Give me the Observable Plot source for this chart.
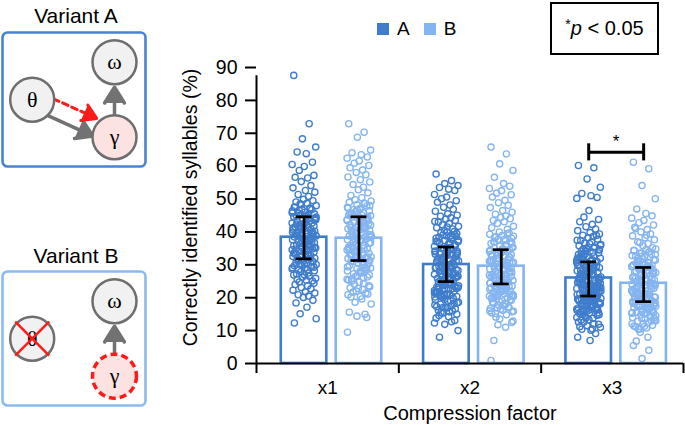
<!DOCTYPE html>
<html><head><meta charset="utf-8">
<script src="https://cdn.jsdelivr.net/npm/d3@7"></script>
<script src="https://cdn.jsdelivr.net/npm/@observablehq/plot@0.6"></script>
<style>
html,body{margin:0;padding:0;background:#fff;}
#root{position:relative;width:685px;height:425px;overflow:hidden;font-family:"Liberation Sans",Arial,Helvetica,sans-serif;color:#000;}
.abs{position:absolute;}
.title{position:absolute;left:0;width:152px;text-align:center;font-size:21px;line-height:21px;}
</style></head><body><div id="root"></div>
<script>
// ---------- data ----------
const categories = ["x1", "x2", "x3"];
const seriesNames = ["A", "B"];
const barA = [38.4, 30.1, 26.0];
const barB = [38.1, 29.6, 24.4];
const errLoA = [31.8, 24.9, 20.5];
const errHiA = [44.6, 35.4, 30.9];
const errLoB = [31.3, 24.2, 18.8];
const errHiB = [44.6, 34.6, 29.2];
const yTicks = [0, 10, 20, 30, 40, 50, 60, 70, 80, 90];
const sigCategory = "x3";
const sigLevel = 64.2;
const sigSpan = 2.6;
const sigLabel = "*";
const pNote = "p < 0.05";

const x1A = [87.6,72.9,68.3,65.8,64.3,63.8,61.2,60.5,59.9,58.7,57.2,56.6,56.4,55.3,54.1,53.4,52.6,52.1,51.4,50.8,
49.9,49.5,49.1,48.7,48.6,48.0,47.6,47.3,46.9,46.8,46.4,46.0,45.7,45.5,45.2,45.0,
44.8,44.6,44.2,44.0,43.7,43.5,43.1,42.8,42.7,42.3,42.0,41.8,41.5,41.4,41.1,40.8,40.6,40.4,40.2,40.0,43.9,42.5,
39.8,39.6,39.3,39.1,38.8,38.5,38.4,38.1,37.8,37.6,37.2,37.0,36.7,36.5,36.3,36.0,35.8,35.5,35.2,35.1,38.9,37.4,
34.9,34.6,34.3,34.1,33.8,33.6,33.2,33.0,32.8,32.5,32.2,32.0,31.7,31.5,31.2,31.0,30.8,30.5,30.2,30.1,33.4,31.9,
29.8,29.5,29.1,28.9,28.5,28.2,27.9,27.5,27.2,26.9,26.5,26.2,25.9,25.6,25.3,25.1,28.7,27.0,
24.8,24.4,24.0,23.6,23.1,22.7,22.3,21.8,21.4,20.9,20.5,20.1,
19.2,18.4,17.1,15.1,13.6,12.3,
37.8,39.0,36.9,39.9,36.1,40.7,35.3,41.5,34.4,42.4,33.6,43.2,32.7,44.1,31.9,44.9,31.0,45.8,30.2,46.6,29.3,47.5,28.5,48.3,35.6,41.2,33.2,43.6,31.4,45.4,38.1,38.7,34.8,42.0,32.3,44.5,29.7,47.1,37.3,39.5];
const x1B = [72.9,70.3,68.8,64.9,64.1,63.5,62.8,62.4,61.6,60.9,60.2,59.5,58.8,58.1,57.4,56.7,55.9,55.2,54.4,53.6,52.8,51.9,51.1,50.4,
49.8,49.4,49.0,48.6,48.3,47.9,47.5,47.1,46.8,46.4,46.1,45.8,45.4,45.1,48.8,46.6,
44.9,44.6,44.2,43.9,43.5,43.2,42.9,42.6,42.2,41.9,41.6,41.3,41.0,40.7,40.4,40.1,43.0,42.0,44.4,41.4,
39.8,39.5,39.1,38.8,38.5,38.2,37.9,37.6,37.2,36.9,36.6,36.3,36.0,35.7,35.4,35.1,38.0,36.8,39.3,37.4,
34.8,34.5,34.1,33.8,33.5,33.2,32.9,32.6,32.2,31.9,31.6,31.3,31.0,30.7,30.4,30.1,33.0,31.8,34.3,32.4,
29.7,29.3,28.9,28.5,28.1,27.7,27.3,26.9,26.5,26.1,25.7,25.3,28.0,26.7,29.0,25.1,27.5,26.3,25.6,
24.7,24.1,23.6,23.0,22.5,22.0,21.4,20.9,20.4,23.3,21.7,24.3,22.8,21.1,20.2,
19.6,18.6,18.1,15.6,15.0,14.4,14.0,9.5,
37.5,38.7,36.6,39.6,35.8,40.4,35.0,41.2,34.1,42.1,33.3,42.9,32.4,43.8,31.6,44.6,30.7,45.5,29.9,46.3,29.0,47.2,28.2,48.0,35.3,40.9,32.9,43.3,31.1,45.1,37.8,38.4,34.5,41.7,32.0,44.2,29.4,46.8,37.0,39.2];
const x2A = [57.6,55.6,54.7,54.1,53.5,53.0,52.6,51.4,50.6,50.1,49.5,49.0,48.2,47.5,46.9,46.3,45.5,45.1,
44.8,44.3,43.9,43.5,43.0,42.6,42.1,41.7,41.3,40.9,40.5,40.1,43.2,41.5,
39.8,39.5,39.1,38.8,38.4,38.1,37.7,37.4,37.0,36.7,36.3,36.0,35.6,35.3,35.1,38.6,37.2,36.5,
34.8,34.5,34.2,33.9,33.6,33.3,33.0,32.7,32.4,32.1,31.8,31.5,31.2,30.9,30.6,30.3,30.1,34.0,32.9,31.7,33.5,30.8,
29.8,29.5,29.2,28.9,28.6,28.3,28.0,27.7,27.4,27.1,26.8,26.5,26.2,25.9,25.6,25.3,25.1,29.0,27.9,26.6,28.4,25.8,27.2,26.0,
24.8,24.4,24.0,23.6,23.2,22.8,22.4,22.0,21.6,21.2,20.8,20.4,20.1,23.9,22.6,21.4,24.2,20.6,23.0,21.9,24.6,23.4,22.2,21.0,20.2,22.9,21.7,20.9,23.7,
19.8,19.3,18.9,18.4,18.0,17.5,17.1,16.6,16.2,15.7,15.3,18.6,17.3,16.0,19.5,18.2,17.8,16.9,15.5,15.0,17.0,19.0,
14.6,13.8,12.7,11.9,10.0,8.0,14.2,13.1,12.3,
29.5,30.7,28.6,31.6,27.8,32.4,27.0,33.2,26.1,34.1,25.3,34.9,24.4,35.8,23.6,36.6,22.7,37.5,21.9,38.3,21.0,39.2,20.2,40.0,27.3,32.9,24.9,35.3,23.1,37.1,29.8,30.4,26.5,33.7,24.0,36.2,21.4,38.8,29.0,31.2];
const x2B = [65.8,63.7,60.7,58.7,56.6,54.7,53.9,53.2,52.5,51.8,51.3,50.6,49.6,48.9,48.1,47.4,46.5,46.0,45.4,
44.9,44.4,44.0,43.5,43.1,42.6,41.7,41.3,40.8,40.0,
39.7,39.3,38.9,38.5,38.1,37.7,37.3,36.9,36.5,36.1,35.7,35.3,37.0,
34.8,34.5,34.1,33.8,33.4,33.1,32.7,32.4,32.0,31.7,31.3,31.0,30.6,30.3,30.0,33.6,32.2,31.5,34.3,32.9,30.8,31.1,
29.8,29.4,29.1,28.7,28.4,28.0,27.7,27.3,27.0,26.6,26.3,25.9,25.6,25.2,29.6,28.2,27.5,26.8,26.1,25.4,28.9,27.1,25.7,29.2,
24.8,24.4,24.0,23.6,23.2,22.8,22.4,22.0,21.6,21.2,20.8,20.4,20.0,24.6,23.9,23.4,22.6,21.9,21.4,20.6,24.2,22.2,20.2,23.0,24.1,21.8,20.9,23.7,22.3,21.1,20.5,22.7,
19.7,19.2,18.7,18.2,17.7,17.2,16.7,16.2,15.7,15.2,18.0,16.5,19.4,18.5,17.5,16.9,15.9,15.4,19.9,18.9,17.0,16.0,19.0,
14.1,12.5,11.8,11.0,7.0,0.9,14.8,13.5,12.9,
29.0,30.2,28.1,31.1,27.3,31.9,26.5,32.7,25.6,33.6,24.8,34.4,23.9,35.3,23.1,36.1,22.2,37.0,21.4,37.8,20.5,38.7,19.7,39.5,26.8,32.4,24.4,34.8,22.6,36.6,29.3,29.9,26.0,33.2,23.5,35.7,20.9,38.3,28.5,30.7];
const x3A = [60.2,59.5,56.1,53.6,51.7,51.0,50.5,50.2,46.5,44.5,43.8,43.1,42.3,41.6,40.9,40.4,
39.8,39.4,39.0,38.6,38.2,37.8,37.4,37.0,36.6,36.2,35.8,35.4,35.1,38.9,37.5,36.4,
34.8,34.5,34.1,33.8,33.4,33.1,32.7,32.4,32.0,31.7,31.3,31.0,30.6,30.3,30.0,33.6,32.2,31.5,34.3,30.8,
29.8,29.4,29.1,28.7,28.4,28.0,27.7,27.3,27.0,26.6,26.3,25.9,25.6,25.2,29.6,28.2,27.5,26.8,26.1,25.4,28.9,27.1,25.7,29.2,
24.8,24.4,24.0,23.6,23.2,22.8,22.4,22.0,21.6,21.2,20.8,20.4,20.0,24.6,23.9,23.4,22.6,21.9,21.4,20.6,24.2,22.2,20.2,23.0,
24.5,23.1,22.5,21.7,21.0,20.3,24.0,22.1,20.9,23.4,
19.8,19.4,19.0,18.6,18.2,17.8,17.4,17.0,16.6,16.2,15.8,15.4,15.1,18.9,17.6,16.4,19.6,19.1,18.5,18.0,17.4,16.8,16.3,15.7,19.3,17.7,19.8,19.0,18.3,17.5,16.8,16.1,15.4,15.0,
14.8,14.3,13.7,13.2,12.6,12.1,11.5,11.0,10.4,10.1,14.7,14.0,13.3,12.6,11.9,11.2,10.5,13.8,
9.1,8.0,7.0,
25.4,26.6,24.5,27.5,23.7,28.3,22.9,29.1,22.0,30.0,21.2,30.8,20.3,31.7,19.5,32.5,18.6,33.4,17.8,34.2,16.9,35.1,16.1,35.9,23.2,28.8,20.8,31.2,19.0,33.0,25.7,26.3,22.4,29.6,19.9,32.1,17.3,34.7,24.9,27.1];
const x3B = [61.2,59.2,54.1,50.1,47.0,45.6,44.9,44.2,43.5,
42.8,42.1,41.4,40.7,40.0,39.4,38.8,38.2,37.6,37.0,36.4,35.8,35.2,41.0,39.0,36.7,
34.8,34.4,34.0,33.6,33.2,32.8,32.4,32.0,31.6,31.2,30.8,30.4,30.0,33.9,32.6,31.4,30.2,34.6,
29.8,29.4,29.0,28.6,28.2,27.8,27.4,27.0,26.6,26.2,25.8,25.4,25.0,29.6,28.4,27.2,26.0,25.2,28.9,27.6,26.4,29.2,
24.9,24.5,24.1,23.7,23.3,22.9,22.5,22.1,21.7,21.3,20.9,20.5,20.1,24.7,23.9,23.1,22.3,21.5,20.7,24.3,22.7,21.1,20.3,23.5,21.8,21.0,20.2,20.6,
19.8,19.4,19.0,18.6,18.2,17.8,17.4,17.0,16.6,16.2,15.8,15.4,15.1,19.6,18.4,17.6,16.4,15.6,18.9,17.2,19.3,18.5,17.7,16.9,16.1,15.3,18.8,17.1,15.5,19.9,16.6,
14.8,14.4,14.0,13.6,13.2,12.8,12.4,12.0,11.6,11.2,10.8,10.4,13.0,11.4,14.5,13.7,12.9,12.1,11.3,10.5,13.9,
9.5,8.0,6.8,5.5,4.0,1.5,
23.8,25.0,22.9,25.9,22.1,26.7,21.3,27.5,20.4,28.4,19.6,29.2,18.7,30.1,17.9,30.9,17.0,31.8,16.2,32.6,15.3,33.5,14.5,34.3,21.6,27.2,19.2,29.6,17.4,31.4,24.1,24.7,20.8,28.0,18.3,30.5,15.7,33.1,23.3,25.5];

// fixed horizontal scatter offsets (fraction of half-cloud width), cycled per point
const jitter = [-0.82,0.41,-0.13,0.93,-0.55,0.18,0.67,-0.95,0.02,-0.38,0.79,-0.71,0.29,-0.22,0.55,-0.88,0.11,0.86,-0.47,0.36,-0.05,0.71,-0.64,0.23,-0.31,0.97,-0.77,0.48,-0.16,0.62,-0.92,0.07,-0.43,0.83,-0.27,0.34,-0.59];

// diagram structure
const nodesA = [
  {label: "ω", col: 1, row: 0, kind: "observed"},
  {label: "θ", col: 0, row: 1, kind: "observed"},
  {label: "γ", col: 1, row: 2, kind: "latent"}
];
const edgesA = [
  {from: "θ", to: "γ", kind: "fixed"},
  {from: "θ", to: "γ", kind: "learned"},
  {from: "γ", to: "ω", kind: "fixed"}
];
const nodesB = [
  {label: "ω", col: 1, row: 0, kind: "observed"},
  {label: "θ", col: 0, row: 1, kind: "removed"},
  {label: "γ", col: 1, row: 2, kind: "free"}
];
const edgesB = [
  {from: "γ", to: "ω", kind: "fixed"}
];

// ---------- styling / layout ----------
const colorA = "#3f7dcc", colorB = "#85b5f0";
const seriesColors = [colorA, colorB];
const center = [0.334, 0.72];
const halfW = 0.16, jitterW = 0.088, capW = 0.056;
const FONT = '"Liberation Sans", Arial, Helvetica, sans-serif';
const SERIF = '"Liberation Serif", "DejaVu Serif", serif';

const groupVals = [[x1A, x1B], [x2A, x2B], [x3A, x3B]];
const pts = [];
groupVals.forEach((pair, c) => pair.forEach((vals, s) => vals.forEach((v, i) => {
  pts.push({x: c + center[s] + jitter[i % jitter.length] * jitterW, y: v, s: seriesNames[s]});
})));
const bars = [];
categories.forEach((cat, c) => {
  bars.push({c, s: 0, mean: barA[c], lo: errLoA[c], hi: errHiA[c]});
  bars.push({c, s: 1, mean: barB[c], lo: errLoB[c], hi: errHiB[c]});
});
bars.forEach(d => { d.cx = d.c + center[d.s]; });
const sc = categories.indexOf(sigCategory);
const sig = [{xa: sc + center[0], xb: sc + center[1], y: sigLevel, label: sigLabel}];
const boundaries = d3.range(categories.length + 1);

const root = document.getElementById("root");

const main = Plot.plot({
  width: 685, height: 425,
  marginLeft: 256, marginRight: 2, marginTop: 67, marginBottom: 62,
  x: {domain: [0, 3], axis: null},
  y: {domain: [0, 90], axis: null},
  color: {domain: seriesNames, range: seriesColors},
  style: {fontFamily: FONT, fontSize: "19px", background: "transparent", color: "#000", overflow: "visible"},
  marks: [
    Plot.rect(bars, {x1: d => d.cx - halfW, x2: d => d.cx + halfW, y1: 0, y2: "mean",
      fill: "white", stroke: d => seriesNames[d.s], strokeWidth: 2.6}),
    Plot.dot(pts, {x: "x", y: "y", stroke: "s", r: 3.1, strokeWidth: 1.35, fill: "none"}),
    // y axis: line, ticks, labels
    Plot.ruleX([0], {y1: 0, y2: 87.5, stroke: "#000", strokeWidth: 2}),
    Plot.ruleY(yTicks, {y: d => d, x1: 0, x2: 0, insetLeft: -11, stroke: "#000", strokeWidth: 2}),
    Plot.text(yTicks, {x: 0, y: d => d, text: d => String(d), textAnchor: "end", dx: -19, fontSize: 19.5}),
    // x axis: line, boundary ticks, labels
    Plot.ruleY([0], {stroke: "#000", strokeWidth: 2}),
    Plot.ruleX(boundaries, {x: d => d, y1: 0, y2: 0, insetBottom: -10, stroke: "#000", strokeWidth: 2}),
    Plot.text(categories, {x: (d, i) => i + 0.5, y: 0, text: d => d, dy: 24, lineAnchor: "middle", fontSize: 19}),
    // error bars
    Plot.ruleX(bars, {x: "cx", y1: "lo", y2: "hi", stroke: "#000", strokeWidth: 2.7}),
    Plot.ruleY(bars, {y: "lo", x1: d => d.cx - capW, x2: d => d.cx + capW, stroke: "#000", strokeWidth: 2.7}),
    Plot.ruleY(bars, {y: "hi", x1: d => d.cx - capW, x2: d => d.cx + capW, stroke: "#000", strokeWidth: 2.7}),
    // significance bracket
    Plot.ruleY(sig, {y: "y", x1: "xa", x2: "xb", stroke: "#000", strokeWidth: 3}),
    Plot.ruleX(sig, {x: "xa", y1: d => d.y - sigSpan, y2: d => d.y + sigSpan, stroke: "#000", strokeWidth: 3}),
    Plot.ruleX(sig, {x: "xb", y1: d => d.y - sigSpan, y2: d => d.y + sigSpan, stroke: "#000", strokeWidth: 3}),
    Plot.text(sig, {x: d => (d.xa + d.xb) / 2, y: "y", text: "label", dy: -11, fontSize: 17}),
    // axis titles
    Plot.text(["Correctly identified syllables (%)"], {frameAnchor: "left", textAnchor: "middle", lineAnchor: "middle",
      rotate: -90, dx: -66, dy: -8, fontSize: 19.5}),
    Plot.text(["Compression factor"], {frameAnchor: "bottom", textAnchor: "middle", lineAnchor: "middle", dy: 50, fontSize: 20})
  ]
});
main.style.position = "absolute"; main.style.left = "0px"; main.style.top = "0px";
root.appendChild(main);

function diagram(nodes, edges, boxColor) {
  const byId = Object.fromEntries(nodes.map(n => [n.label, n]));
  const pairCount = e => edges.filter(f => f.from === e.from && f.to === e.to).length;
  const single = edges.filter(e => pairCount(e) === 1);
  const parFixed = edges.filter(e => pairCount(e) > 1 && e.kind === "fixed");
  const parLearned = edges.filter(e => pairCount(e) > 1 && e.kind === "learned");
  const ex = {x1: e => byId[e.from].col, y1: e => byId[e.from].row, x2: e => byId[e.to].col, y2: e => byId[e.to].row};
  const GRAY = "#727272", RED = "#ff1a1a";
  const head = {headLength: 8, headAngle: 64, strokeLinejoin: "miter"};
  return Plot.plot({
    width: 148, height: 138, marginLeft: 2, marginRight: 3, marginTop: 2, marginBottom: 2,
    x: {domain: [0, 1], range: [31.7, 114], axis: null},
    y: {domain: [0, 2], range: [31.7, 106.7], axis: null},
    style: {background: "transparent", overflow: "visible"},
    marks: [
      Plot.frame({stroke: boxColor, strokeWidth: 2.6, rx: 5, fill: "white"}),
      Plot.arrow(single, {...ex, ...head, stroke: GRAY, fill: GRAY, strokeWidth: 3.5, insetStart: 23, insetEnd: 25}),
      Plot.arrow(parFixed, {...ex, ...head, stroke: GRAY, fill: GRAY, strokeWidth: 3.5, insetStart: 21, insetEnd: 20, dx: -3.3, dy: 7.2}),
      Plot.arrow(parLearned, {...ex, stroke: RED, strokeWidth: 3, strokeDasharray: "6,4", headLength: 0, insetStart: 19, insetEnd: 31, dx: 4, dy: -8.8}),
      Plot.arrow(parLearned, {...ex, ...head, stroke: RED, fill: RED, strokeWidth: 3, insetStart: 58, insetEnd: 24, dx: 4, dy: -8.8}),
      Plot.dot(nodes.filter(n => n.kind !== "free"), {x: "col", y: "row", r: 22,
        fill: n => n.kind === "latent" ? "#fde2e2" : "#f1f1f1", stroke: "#6e6e6e", strokeWidth: 2.5}),
      Plot.dot(nodes.filter(n => n.kind === "free"), {x: "col", y: "row", r: 22,
        fill: "#fde2e2", stroke: RED, strokeWidth: 3.5, strokeDasharray: "7,4"}),
      Plot.text(nodes, {x: "col", y: "row", text: "label", fontSize: 22, fontFamily: SERIF, fill: "#000"}),
      Plot.dot(nodes.filter(n => n.kind === "removed"), {x: "col", y: "row", symbol: "times", r: 15.5, stroke: RED, strokeWidth: 2.5})
    ]
  });
}

function addTitle(text, top) {
  const t = document.createElement("div");
  t.className = "title"; t.style.top = top + "px"; t.textContent = text;
  root.appendChild(t);
}
addTitle("Variant A", 5);
const dA = diagram(nodesA, edgesA, "#4a83cf");
dA.style.position = "absolute"; dA.style.left = "0px"; dA.style.top = "30px";
root.appendChild(dA);
addTitle("Variant B", 245);
const dB = diagram(nodesB, edgesB, "#8bbaf2");
dB.style.position = "absolute"; dB.style.left = "0px"; dB.style.top = "269px";
root.appendChild(dB);

// legend
const leg = document.createElement("div");
leg.className = "abs";
leg.style.cssText = "left:377px;top:17px;height:24px;display:flex;align-items:center;font-size:19px;line-height:24px;";
seriesNames.forEach((name, i) => {
  const sw = document.createElement("span");
  sw.style.cssText = `display:inline-block;width:12px;height:12px;background:${seriesColors[i]};margin-right:8px;`;
  const lb = document.createElement("span");
  lb.textContent = name;
  lb.style.marginRight = "14px";
  leg.appendChild(sw); leg.appendChild(lb);
});
root.appendChild(leg);

// p-value note
const pb = document.createElement("div");
pb.className = "abs";
pb.style.cssText = "left:550px;top:2px;width:105px;height:49px;border:2px solid #000;display:flex;align-items:center;justify-content:center;font-size:20px;";
const parts = pNote.split(" ");
pb.innerHTML = `<span style="font-size:14px;position:relative;top:-5px;">${sigLabel}</span><i>${parts[0]}</i>&nbsp;${parts.slice(1).join(" ")}`;
root.appendChild(pb);
</script>
</body></html>
